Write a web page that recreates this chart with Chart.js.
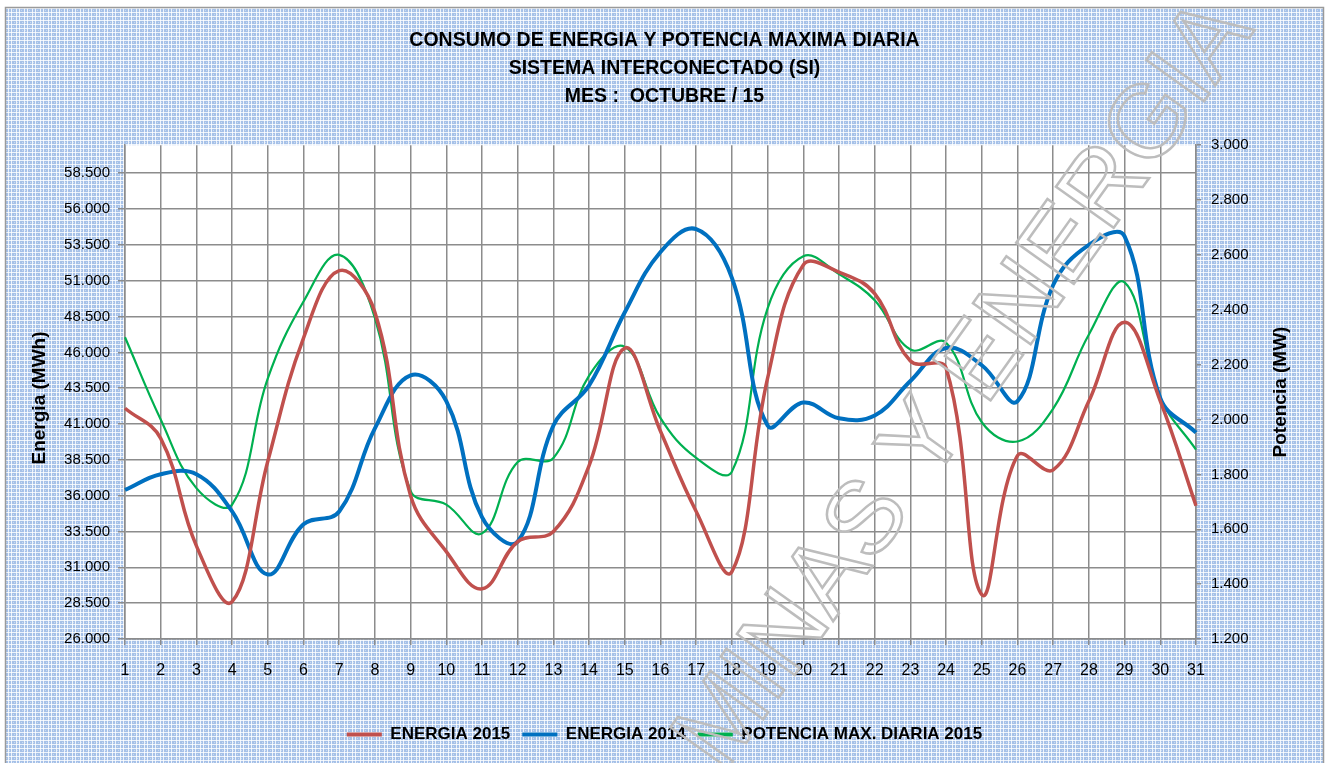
<!DOCTYPE html>
<html>
<head>
<meta charset="utf-8">
<script src="https://cdn.jsdelivr.net/npm/chart.js@4.4.1/dist/chart.umd.min.js"></script>
<style>
  html, body { margin: 0; padding: 0; background: #fff; }
  #wrap { position: absolute; left: 0; top: 0; width: 1329px; height: 763px; }
</style>
</head>
<body>
<div id="wrap"><canvas id="myChart"></canvas></div>
<script>
const days = ['1','2','3','4','5','6','7','8','9','10','11','12','13','14','15','16',
  '17','18','19','20','21','22','23','24','25','26','27','28','29','30','31'];

// MWh
const energia2015 = [42100, 40000, 32500, 28600, 38400, 47000, 51700, 48800, 36000, 32100,
  29500, 32800, 33500, 38100, 46300, 40500, 34900, 30700, 44200, 52100,
  51600, 50100, 45400, 44900, 29100, 38800, 37800, 42600, 48100, 42600, 35300];

const energia2014 = [36400, 37500, 37500, 34900, 30500, 34000, 34900, 40700, 44400, 42600,
  34500, 32800, 40900, 43700, 48800, 53000, 54600, 51200, 40900, 42500,
  41400, 41600, 44000, 46300, 45100, 42600, 50700, 53500, 54100, 42800, 40400];

// MW
const potencia2015 = [2300, 2000, 1750, 1690, 2150, 2430, 2600, 2370, 1740, 1690,
  1585, 1845, 1860, 2160, 2265, 2005, 1860, 1810, 2405, 2595,
  2530, 2435, 2255, 2280, 1990, 1920, 2040, 2310, 2500, 2080, 1890];

const energiaTicks = [26000, 28500, 31000, 33500, 36000, 38500, 41000, 43500, 46000,
  48500, 51000, 53500, 56000, 58500];

const titleLines = ['CONSUMO DE ENERGIA Y POTENCIA MAXIMA DIARIA',
  'SISTEMA INTERCONECTADO (SI)', 'MES :  OCTUBRE / 15'];

const gridColor = '#8c8c8c';
const FONT = '"Liberation Sans", Arial, sans-serif';
const fmt = v => (v / 1000).toFixed(3);

// plaid background tile
function makePattern() {
  const c = document.createElement('canvas');
  c.width = 8; c.height = 8;
  const g = c.getContext('2d');
  g.fillStyle = '#a6c1e8';
  g.fillRect(0, 0, 8, 8);
  g.fillStyle = 'rgba(255,255,255,0.8)';
  g.fillRect(0, 0, 1, 8);
  g.fillRect(3, 0, 1, 8);
  g.fillRect(0, 0, 8, 1);
  g.fillRect(0, 4, 8, 1);
  g.fillStyle = 'rgba(255,255,255,0.4)';
  g.fillRect(5, 2, 1, 1);
  g.fillRect(1, 6, 1, 1);
  g.fillRect(6, 6, 1, 1);
  return c;
}

const backdrop = {
  id: 'backdrop',
  beforeDraw(chart) {
    const { ctx, width, height, chartArea } = chart;
    ctx.save();
    ctx.fillStyle = '#fff';
    ctx.fillRect(0, 0, width, height);
    ctx.fillStyle = ctx.createPattern(makePattern(), 'repeat');
    ctx.fillRect(6, 8, 1318, height - 8);
    ctx.strokeStyle = '#9a9a9a';
    ctx.lineWidth = 1.5;
    ctx.strokeRect(5.5, 7.5, 1318, height + 10);
    ctx.fillStyle = '#fff';
    ctx.fillRect(chartArea.left, chartArea.top, chartArea.right - chartArea.left, chartArea.bottom - chartArea.top);
    ctx.restore();
  },
  afterDraw(chart) {
    const { ctx } = chart;
    ctx.save();
    // axis titles
    ctx.fillStyle = '#000';
    ctx.font = 'bold 19px ' + FONT;
    ctx.textAlign = 'center';
    ctx.textBaseline = 'middle';
    ctx.translate(40, 398);
    ctx.rotate(-Math.PI / 2);
    ctx.fillText('Energia (MWh)', 0, 0);
    ctx.setTransform(1, 0, 0, 1, 0, 0);
    ctx.translate(1281, 392);
    ctx.rotate(-Math.PI / 2);
    ctx.fillText('Potencia (MW)', 0, 0);
    ctx.setTransform(1, 0, 0, 1, 0, 0);
    // watermark
    ctx.translate(966, 386);
    ctx.rotate(-54.5 * Math.PI / 180);
    ctx.font = '103px ' + FONT;
    ctx.strokeStyle = '#bdbdbd';
    ctx.lineWidth = 2.5;
    ctx.strokeText('MINAS Y ENERGIA', 0, 0);
    ctx.restore();
  }
};

const ctx = document.getElementById('myChart');

new Chart(ctx, {
  type: 'line',
  data: {
    labels: days,
    datasets: [{
      label: 'ENERGIA 2015',
      data: energia2015,
      borderColor: '#c0504d',
      backgroundColor: '#c0504d',
      borderWidth: 3.5,
      yAxisID: 'y'
    },
    {
      label: 'ENERGIA 2014',
      data: energia2014,
      borderColor: '#0070c0',
      backgroundColor: '#0070c0',
      borderWidth: 4,
      yAxisID: 'y'
    },
    {
      label: 'POTENCIA MAX. DIARIA 2015',
      data: potencia2015,
      borderColor: '#00b050',
      backgroundColor: '#00b050',
      borderWidth: 2.2,
      yAxisID: 'y1'
    }]
  },
  options: {
    responsive: true,
    maintainAspectRatio: false,
    animation: false,
    elements: {
      point: { radius: 0 },
      line: { tension: 0.4, cubicInterpolationMode: 'default' }
    },
    layout: { padding: { left: 0, right: 0, top: 0, bottom: 10 } },
    plugins: {
      title: {
        display: true,
        text: titleLines,
        color: '#000',
        font: { family: FONT, size: 19.5, weight: 'bold', lineHeight: 1.456 },
        padding: { top: 26, bottom: 34 }
      },
      legend: {
        position: 'bottom',
        labels: {
          color: '#000',
          font: { family: FONT, size: 17, weight: 'bold' },
          boxWidth: 35,
          boxHeight: 4,
          padding: 12,
          generateLabels(chart) {
            return chart.data.datasets.map((ds, i) => ({
              text: ds.label,
              fillStyle: ds.borderColor,
              strokeStyle: ds.borderColor,
              lineWidth: 0,
              hidden: false,
              datasetIndex: i
            }));
          }
        }
      },
      tooltip: { enabled: false }
    },
    scales: {
      x: {
        type: 'category',
        offset: false,
        grid: { color: gridColor, lineWidth: 1.5, tickLength: 6, offset: false },
        border: { color: gridColor, width: 1.5 },
        ticks: {
          color: '#000',
          font: { family: FONT, size: 16 },
          padding: 16,
          maxRotation: 0,
          autoSkip: false
        },
        afterFit(scale) { scale.height = 75; }
      },
      y: {
        position: 'left',
        min: 26000,
        max: 60457,
        afterBuildTicks(scale) { scale.ticks = energiaTicks.map(v => ({ value: v })); },
        grid: { color: gridColor, lineWidth: 1.5, tickLength: 7 },
        border: { color: gridColor, width: 1.5 },
        ticks: {
          color: '#000',
          font: { family: FONT, size: 15 },
          padding: 8,
          callback: v => fmt(v)
        },
        afterFit(scale) { scale.width = 125; }
      },
      y1: {
        position: 'right',
        min: 1200,
        max: 3000,
        ticks: {
          stepSize: 200,
          color: '#000',
          font: { family: FONT, size: 15 },
          padding: 10,
          callback: v => fmt(v)
        },
        grid: { drawOnChartArea: false, color: gridColor, lineWidth: 1.5, tickLength: 5 },
        border: { color: gridColor, width: 1.5 },
        afterFit(scale) { scale.width = 133; }
      }
    }
  },
  plugins: [backdrop]
});
</script>
</body>
</html>
